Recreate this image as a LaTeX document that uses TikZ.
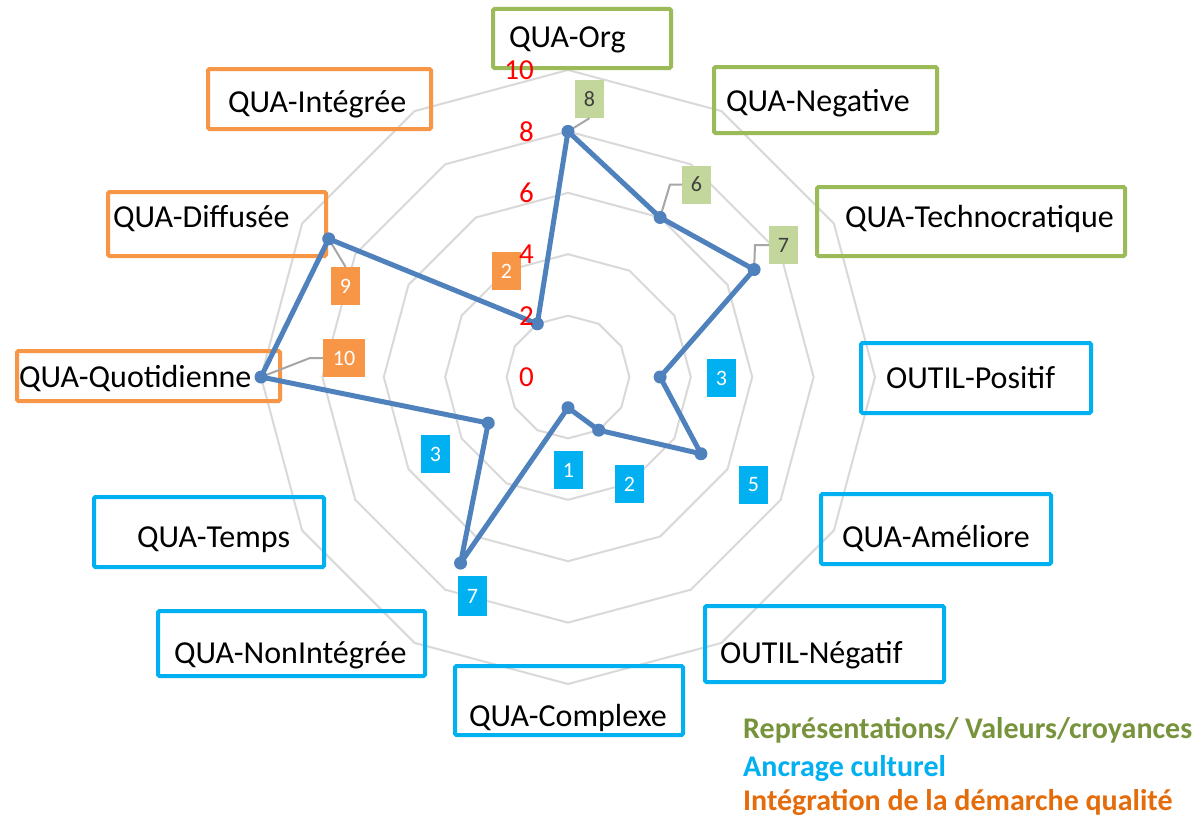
\documentclass[tikz,border=0pt]{standalone}
\usepackage{fontspec}
\setmainfont{Carlito}
\usetikzlibrary{calc}

\definecolor{datablue}{HTML}{4F81BD}
\definecolor{grpgreen}{HTML}{9BBB59}
\definecolor{lblgreen}{HTML}{C3D69B}
\definecolor{grporange}{HTML}{F79646}
\definecolor{grpblue}{HTML}{00B0F0}
\definecolor{leggreen}{HTML}{77933C}
\definecolor{legorange}{HTML}{E46C0A}
\definecolor{gridgray}{HTML}{D9D9D9}
\definecolor{leadergray}{HTML}{A6A6A6}
\definecolor{darktext}{HTML}{404040}

\begin{document}
\begin{tikzpicture}[x=1pt,y=-1pt,
  gridring/.style={draw=gridgray,line width=2},
  dataline/.style={draw=datablue,line width=5,line join=round},
  leader/.style={draw=leadergray,line width=2},
  catbox/.style={draw=#1,line width=4,rounded corners=1.5,inner sep=0},
  cattext/.style={anchor=base west,inner sep=0,font=\fontsize{32}{38}\selectfont},
  axislabel/.style={anchor=east,inner sep=0,text=red,font=\fontsize{29}{34}\selectfont},
  vallabel/.style={fill=#1,minimum width=29,minimum height=38,inner sep=0,
                   font=\fontsize{22}{26}\selectfont},
  legend/.style={anchor=base west,inner sep=0,font=\bfseries\fontsize{30}{34}\selectfont}
]
\useasboundingbox (0,0) rectangle (1201,816);
\fill[white] (0,0) rectangle (1201,816);

% chart centre; one unit of the scale is 30.7
\coordinate (c) at (568,377);

% concentric dodecagon grid at 2, 4, 6, 8, 10
\foreach \r in {2,4,6,8,10}{
  \draw[gridring] ($(c)+(-90:\r*30.7)$)
    \foreach \k in {1,...,11}{ -- ($(c)+(-90+30*\k:\r*30.7)$) } -- cycle;
}

% category boxes (outlines only)
\node[catbox=grpgreen, minimum width=178,minimum height=59] (bOrg)  at (582,38.5) {};
\node[catbox=grpgreen, minimum width=223,minimum height=66] (bNeg)  at (825.5,100) {};
\node[catbox=grpgreen, minimum width=308,minimum height=69] (bTech) at (971,221.5) {};
\node[catbox=grpblue,  minimum width=230,minimum height=70] (bOPos) at (976,378) {};
\node[catbox=grpblue,  minimum width=230,minimum height=70] (bAme)  at (936,529) {};
\node[catbox=grpblue,  minimum width=239,minimum height=76] (bONeg) at (824.5,644) {};
\node[catbox=grpblue,  minimum width=228,minimum height=69] (bCpx)  at (569,700.5) {};
\node[catbox=grpblue,  minimum width=267,minimum height=65] (bNonI) at (291.5,643.5) {};
\node[catbox=grpblue,  minimum width=230,minimum height=70] (bTps)  at (209,532) {};
\node[catbox=grporange,minimum width=263,minimum height=50] (bQuot) at (148.5,376) {};
\node[catbox=grporange,minimum width=218,minimum height=64] (bDiff) at (217,224) {};
\node[catbox=grporange,minimum width=223,minimum height=60] (bInt)  at (319.5,99) {};

% category names
\node[cattext] (tOrg)  at (509,48)  {QUA-Org};
\node[cattext] (tNeg)  at (726,111) {QUA-Negative};
\node[cattext] (tTech) at (845,227) {QUA-Technocratique};
\node[cattext] (tOPos) at (886,388) {OUTIL-Positif};
\node[cattext] (tAme)  at (842,547) {QUA-Améliore};
\node[cattext] (tONeg) at (720,663) {OUTIL-Négatif};
\node[cattext] (tCpx)  at (469,726) {QUA-Complexe};
\node[cattext] (tNonI) at (174,663) {QUA-NonIntégrée};
\node[cattext] (tTps)  at (137,547) {QUA-Temps};
\node[cattext] (tQuot) at (19,387)  {QUA-Quotidienne};
\node[cattext] (tDiff) at (113,227) {QUA-Diffusée};
\node[cattext] (tInt)  at (228,112) {QUA-Intégrée};

% data points, clockwise from the top
\foreach \v [count=\i from 0] in {8,6,7,3,5,2,1,7,3,10,9,2}
  \coordinate (d\i) at ($(c)+(-90+30*\i:\v*30.7)$);

% value labels
\node[vallabel=lblgreen,text=darktext] (l8)  at (589.5,99)  {8};
\node[vallabel=lblgreen,text=darktext] (l6)  at (696.5,184.5) {6};
\node[vallabel=lblgreen,text=darktext] (l7)  at (783.5,245) {7};
\node[vallabel=grporange,text=white] (o2)  at (506.5,271) {2};
\node[vallabel=grporange,text=white] (o9)  at (345.5,286) {9};
\node[vallabel=grporange,text=white,minimum width=42] (o10) at (344,358) {10};
\node[vallabel=grpblue,text=white] (b3a) at (721.5,378) {3};
\node[vallabel=grpblue,text=white] (b5)  at (753.5,485) {5};
\node[vallabel=grpblue,text=white] (b2)  at (629.5,484) {2};
\node[vallabel=grpblue,text=white] (b1)  at (568.5,470) {1};
\node[vallabel=grpblue,text=white,minimum height=40] (b7) at (472.5,596) {7};
\node[vallabel=grpblue,text=white] (b3b) at (435.5,454) {3};

% leader lines from points to their labels
\draw[leader] (d0) -- (l8.south);
\draw[leader] (d1) -- (670,184.5) -- (l6.west);
\draw[leader] (d2) -- (755,245) -- (l7.west);
\draw[leader] (d10) -- (o9.north);
\draw[leader] (d9) -- (310,358) -- (o10.west);

% data series
\draw[dataline] (d0) \foreach \i in {1,...,11}{ -- (d\i) } -- cycle;
\foreach \i in {0,...,11} \fill[datablue] (d\i) circle (6.5);

% scale numbers on the vertical axis
\foreach \k in {0,2,4,6,8,10}
  \node[axislabel] (ax\k) at ($(534,377)+(0,-\k*30.7)$) {\k};

% legend
\node[legend,text=leggreen]  (lg1) at (743,738) {Représentations/ Valeurs/croyances};
\node[legend,text=grpblue]   (lg2) at (743,776) {Ancrage culturel};
\node[legend,text=legorange] (lg3) at (743,810) {Intégration de la démarche qualité};
\end{tikzpicture}
\end{document}
